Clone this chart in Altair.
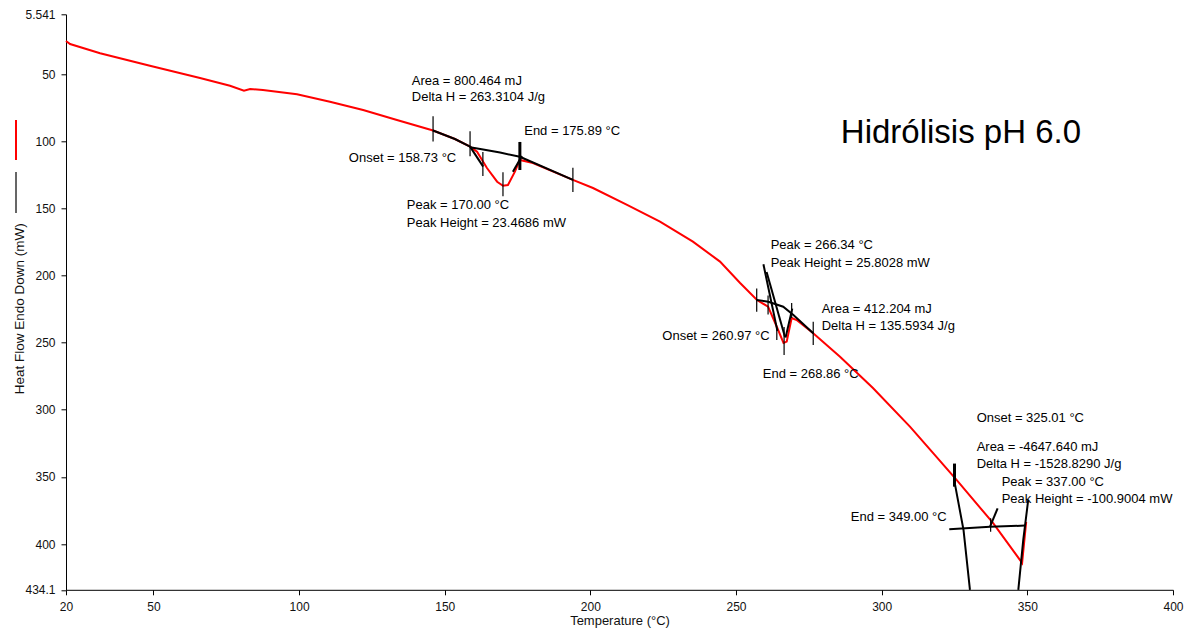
import altair as alt
import pandas as pd

# ---- red DSC trace (Temperature °C, Heat Flow mW) ----
temp_c = [20.0, 21.4, 31.7, 48.8, 66.0, 76.3, 81.1, 83.2, 87.6, 99.3,
          110.6, 122.0, 133.6, 146.0, 153.5, 158.7, 161.1, 164.5, 168.0, 170.0,
          171.7, 174.1, 175.8, 180.3, 194.0, 200.9, 212.6, 223.9, 235.2, 244.5,
          251.4, 257.2, 261.0, 264.0, 266.3, 267.4, 269.1, 270.8, 276.4, 285.7,
          297.0, 309.7, 317.6, 325.7, 338.2, 348.2, 349.6]
heat_flow = [25.4, 27.7, 34.6, 43.9, 53.0, 58.7, 62.4, 61.2, 61.9, 65.1,
             70.6, 76.8, 84.3, 92.1, 98.4, 104.1, 107.9, 120.0, 130.2, 133.2,
             132.7, 122.7, 114.0, 116.3, 128.9, 134.9, 147.5, 160.0, 174.8, 189.7,
             205.6, 218.3, 223.3, 238.2, 250.3, 249.3, 231.7, 233.2, 242.9, 260.5,
             283.8, 312.6, 332.2, 352.3, 384.3, 414.1, 383.5]

# ---- black analysis construction lines (baselines / tangents) ----
black_id = [1, 1, 1,
            2, 2, 2, 2,
            3, 3,
            4, 4,
            5, 5,
            6, 6, 6, 6, 6,
            7, 7,
            8, 8,
            9, 9,
            10, 10, 10,
            11, 11, 11,
            12, 12, 12,
            13, 13]
black_t = [146.0, 153.5, 158.7,
           158.7, 162.7, 169.0, 175.8,
           175.8, 194.0,
           158.7, 163.2,
           173.4, 176.5,
           257.1, 261.1, 266.2, 269.7, 276.5,
           259.4, 264.2,
           260.5, 266.8,
           267.0, 269.3,
           325.2, 328.1, 330.3,
           350.3, 348.6, 346.9,
           323.2, 337.2, 349.2,
           337.2, 339.8]
black_h = [92.1, 98.4, 104.1,
           104.6, 106.1, 108.5, 111.6,
           111.6, 128.9,
           104.1, 119.0,
           122.7, 111.1,
           218.3, 219.6, 223.3, 229.5, 243.1,
           191.7, 241.3,
           197.4, 245.9,
           246.3, 224.7,
           356.0, 389.6, 434.1,
           367.2, 397.0, 434.1,
           389.0, 387.1, 386.3,
           387.1, 373.4]

# ---- marker ticks (temperature, heat flow from, heat flow to) ----
tick_t = [146.0, 158.7, 163.1, 170.0, 194.0,
          257.1, 261.0, 264.0, 266.5, 269.1, 276.5, 337.4]
tick_h1 = [81.5, 92.7, 108.0, 123.1, 119.9,
           209.8, 215.0, 238.4, 238.4, 220.6, 234.4, 380.9]
tick_h2 = [100.2, 111.3, 125.9, 141.0, 137.8,
           227.0, 229.0, 248.0, 259.2, 231.7, 251.8, 390.8]
heavy_tick_t = [175.8, 325.0]
heavy_tick_h1 = [100.6, 340.1]
heavy_tick_h2 = [121.5, 357.3]

# ---- annotation texts ----
ann_text = ["Area = 800.464 mJ", "Delta H = 263.3104 J/g", "End = 175.89 °C",
            "Onset = 158.73 °C", "Peak = 170.00 °C", "Peak Height = 23.4686 mW",
            "Peak = 266.34 °C", "Peak Height = 25.8028 mW", "Area = 412.204 mJ",
            "Delta H = 135.5934 J/g", "Onset = 260.97 °C", "End = 268.86 °C",
            "Onset = 325.01 °C", "Area = -4647.640 mJ", "Delta H = -1528.8290 J/g",
            "Peak = 337.00 °C", "Peak Height = -100.9004 mW", "End = 349.00 °C"]
ann_t = [138.7, 138.7, 177.3, 117.1, 137.0, 137.0,
         261.9, 261.9, 279.4, 279.4, 224.7, 259.2,
         332.6, 332.6, 332.6, 341.2, 341.2, 289.4]
ann_h = [55.0, 67.3, 92.4, 112.3, 147.5, 160.7,
         177.3, 190.5, 225.0, 237.6, 245.1, 273.4,
         306.4, 327.5, 340.4, 353.6, 366.5, 380.1]

chart_title = ["Hidrólisis pH 6.0"]
title_t = [327.2]
title_h = [93.9]

x_ticks = [20, 50, 100, 150, 200, 250, 300, 350, 400]
y_ticks = [5.541, 50, 100, 150, 200, 250, 300, 350, 400, 434.1]
x_domain = [20, 400]
y_domain = [5.541, 434.1]

# ---- frames ----
curve_df = pd.DataFrame({"T": temp_c, "H": heat_flow, "i": range(len(temp_c))})
black_df = pd.DataFrame({"id": black_id, "T": black_t, "H": black_h,
                         "i": range(len(black_t))})
tick_df = pd.DataFrame({"T": tick_t, "H1": tick_h1, "H2": tick_h2})
heavy_df = pd.DataFrame({"T": heavy_tick_t, "H1": heavy_tick_h1, "H2": heavy_tick_h2})
ann_df = pd.DataFrame({"label": ann_text, "T": ann_t, "H": ann_h})
title_df = pd.DataFrame({"label": chart_title, "T": title_t, "H": title_h})

FONT = "Liberation Sans"

xscale = alt.Scale(domain=x_domain, nice=False, zero=False)
yscale = alt.Scale(domain=y_domain, nice=False, zero=False, reverse=True)

x_axis = alt.Axis(values=x_ticks, title="Temperature (°C)", grid=False,
                  labelFlush=False, tickSize=5, labelPadding=7,
                  labelFontSize=12, labelFont=FONT, labelColor="#111",
                  titleFont=FONT, titleFontSize=13, titleFontWeight="normal",
                  titleColor="#111", titlePadding=2, domainColor="black",
                  tickColor="black", labelOverlap=False)
y_axis = alt.Axis(values=y_ticks, title="Heat Flow Endo Down (mW)", grid=False,
                  labelFlush=False, tickSize=5, labelPadding=6,
                  labelFontSize=12, labelFont=FONT, labelColor="#111",
                  labelExpr="datum.value == 5.541 ? '5.541' : datum.value == 434.1 ? '434.1' : format(datum.value, 'd')",
                  titleFont=FONT, titleFontSize=13.5, titleFontWeight="normal",
                  titleColor="#111", titleX=-47, titleY=294, titleBaseline="middle",
                  domainColor="black", tickColor="black", labelOverlap=False)

X = alt.X("T:Q", scale=xscale, axis=x_axis)
Y = alt.Y("H:Q", scale=yscale, axis=y_axis)

red = alt.Chart(curve_df).mark_line(color="#ff0000", strokeWidth=2).encode(
    x=X, y=Y, order="i:Q")

black = alt.Chart(black_df).mark_line(color="black", strokeWidth=2).encode(
    x=alt.X("T:Q", scale=xscale), y=alt.Y("H:Q", scale=yscale),
    detail="id:N", order="i:Q")

ticks = alt.Chart(tick_df).mark_rule(color="black", strokeWidth=1.2).encode(
    x=alt.X("T:Q", scale=xscale), y=alt.Y("H1:Q", scale=yscale), y2="H2:Q")

heavy = alt.Chart(heavy_df).mark_rule(color="black", strokeWidth=3).encode(
    x=alt.X("T:Q", scale=xscale), y=alt.Y("H1:Q", scale=yscale), y2="H2:Q")

labels = alt.Chart(ann_df).mark_text(align="left", baseline="middle", font=FONT,
                                     fontSize=13, color="#000").encode(
    x=alt.X("T:Q", scale=xscale), y=alt.Y("H:Q", scale=yscale), text="label:N")

big_title = alt.Chart(title_df).mark_text(align="center", baseline="middle",
                                          font=FONT, fontSize=33, color="#000").encode(
    x=alt.X("T:Q", scale=xscale), y=alt.Y("H:Q", scale=yscale), text="label:N")

legend_df = pd.DataFrame({"k": [0]})
legend_red = alt.Chart(legend_df).mark_rule(color="#ff0000", strokeWidth=2).encode(
    x=alt.value(-50), y=alt.value(105.7), y2=alt.value(145.7))
legend_black = alt.Chart(legend_df).mark_rule(color="black", strokeWidth=1.2).encode(
    x=alt.value(-50), y=alt.value(157.7), y2=alt.value(198.7))

chart = alt.layer(red, black, ticks, heavy, labels, big_title,
                  legend_red, legend_black).properties(
    width=1107, height=575.5,
    autosize=alt.AutoSizeParams(type="none"),
    padding={"left": 58, "top": 6.3, "right": 15, "bottom": 40},
    background="white",
).configure_view(stroke=None)

chart.save("out.html", embed_options={"renderer": "svg", "actions": False})
